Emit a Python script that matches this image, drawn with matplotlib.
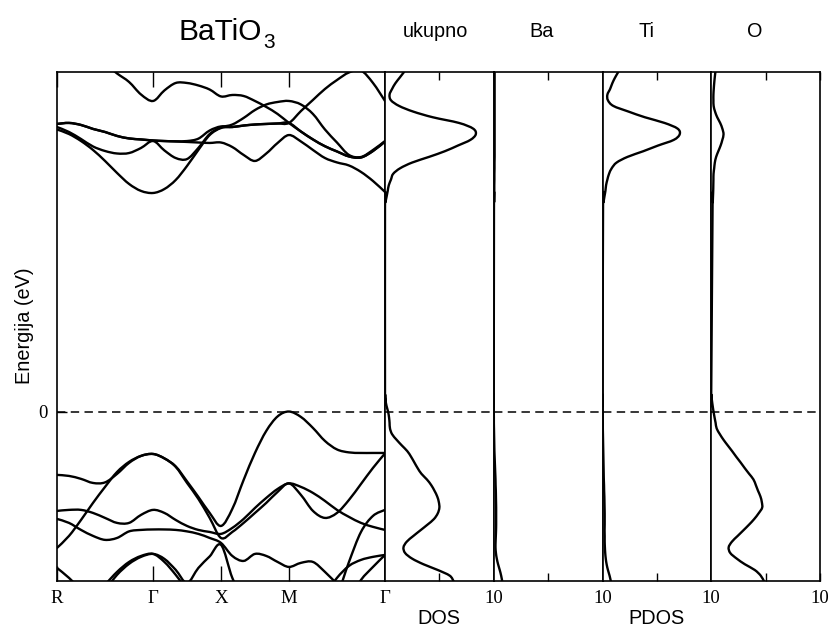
import numpy as np
import matplotlib
matplotlib.use('Agg')
import matplotlib.pyplot as plt
from matplotlib.path import Path
from matplotlib.patches import PathPatch

plt.rcParams['font.family'] = ['Liberation Sans', 'DejaVu Sans']
plt.rcParams['mathtext.default'] = 'regular'

nan = np.nan
SERIF = ['Liberation Serif', 'DejaVu Serif']

# ---------------- band structure data ----------------
k_labels = ['R', 'Γ', 'X', 'M', 'Γ']
k_nodes = [0.0, np.sqrt(2), np.sqrt(2) + 1, np.sqrt(2) + 2, 2 * np.sqrt(2) + 2]
k_path = np.concatenate([
    np.linspace(k_nodes[0], k_nodes[1], 9),
    np.linspace(k_nodes[1], k_nodes[2], 7)[1:],
    np.linspace(k_nodes[2], k_nodes[3], 7)[1:],
    np.linspace(k_nodes[3], k_nodes[4], 9)[1:],
])

# conduction bands (eV)
cb1 = [2.492, 2.452, 2.390, 2.311, 2.214, 2.108, 2.011, 1.949, 1.931,
       1.966, 2.046, 2.170, 2.311, 2.443, 2.505,
       2.514, 2.527, 2.536, 2.541, 2.545, 2.550,
       2.655, 2.753, 2.850, 2.929, 2.996, 3.013, 2.903, 2.744]
cb2 = [2.514, 2.470, 2.408, 2.342, 2.302, 2.280, 2.284, 2.329, 2.390,
       2.307, 2.240, 2.231, 2.329, 2.452, 2.510,
       2.536, 2.594, 2.664, 2.713, 2.735, 2.744,
       2.713, 2.629, 2.492, 2.377, 2.267, 2.249, 2.311, 2.390]
cb3 = [2.541, 2.550, 2.532, 2.497, 2.470, 2.435, 2.413, 2.404, 2.395,
       2.390, 2.388, 2.390, 2.411, 2.483, 2.519,
       2.514, 2.527, 2.536, 2.541, 2.545, 2.550,
       2.474, 2.404, 2.344, 2.298, 2.254, 2.245, 2.302, 2.386]
cb4 = [3.247, 3.230, 3.194, 3.141, 3.071, 2.987, 2.912, 2.801, 2.744,
       2.837, 2.903, 2.903, 2.881, 2.845, 2.784,
       2.797, 2.788, 2.744, 2.691, 2.629, 2.550,
       2.474, 2.404, 2.344, 2.298, 2.254, 2.245, 2.302, 2.386]
cb5 = [2.541, 2.550, 2.532, 2.497, 2.470, 2.435, 2.413, 2.404, 2.395,
       2.390, 2.386, 2.382, 2.377, 2.373, 2.377,
       2.337, 2.267, 2.214, 2.280, 2.373, 2.443,
       2.386, 2.311, 2.240, 2.201, 2.174, 2.117, 2.037, 1.940]

# valence bands (eV)
vb1 = [-1.205, -1.099, -0.958, -0.807, -0.666, -0.534, -0.445, -0.392, -0.375,
       -0.414, -0.485, -0.617, -0.754, -0.896, -1.011,
       -0.860, -0.604, -0.366, -0.171, -0.043, 0.000,
       -0.048, -0.145, -0.260, -0.335, -0.361, -0.366, -0.366, -0.366]
vb2 = [-0.560, -0.569, -0.595, -0.631, -0.626, -0.551, -0.454, -0.392, -0.375,
       -0.414, -0.489, -0.631, -0.772, -0.940, -1.117,
       -1.064, -0.984, -0.896, -0.807, -0.710, -0.635,
       -0.737, -0.878, -0.940, -0.896, -0.781, -0.640, -0.498, -0.370]
vb3 = [-0.878, -0.869, -0.869, -0.896, -0.940, -0.984, -0.984, -0.913, -0.869,
       -0.896, -0.958, -1.011, -1.046, -1.064, -1.081,
       -1.028, -0.949, -0.852, -0.763, -0.684, -0.635,
       -0.666, -0.719, -0.790, -0.869, -0.931, -0.984, -1.019, -1.046]
vb4 = [-0.949, -0.984, -1.046, -1.099, -1.134, -1.117, -1.059, -1.046, -1.042,
       -1.042, -1.046, -1.059, -1.081, -1.117, -1.161,
       -1.276, -1.320, -1.258, -1.276, -1.329, -1.373,
       -1.337, -1.329, -1.417, -1.523, nan, nan, nan, nan]
vb5 = [-1.382, -1.470, -1.576, -1.647, -1.576, -1.443, -1.346, -1.284, -1.258,
       -1.302, -1.399, -1.514, -1.382, -1.280, -1.178,
       -1.470, -1.664, nan, nan, nan, nan,
       nan, nan, nan, nan, nan, nan, nan, nan]
vb6 = [nan, nan, nan, -1.664, -1.532, -1.417, -1.329, -1.276, -1.258,
       -1.329, -1.443, -1.576, nan, nan, nan,
       nan, nan, nan, nan, nan, nan,
       nan, nan, -1.797, -1.629, -1.329, -1.064, -0.922, -0.869]
vb7 = [nan, nan, nan, nan, nan, nan, nan, nan, nan,
       nan, nan, nan, nan, nan, nan,
       nan, nan, nan, nan, nan, nan,
       nan, -1.753, -1.620, -1.470, -1.364, -1.311, -1.284, -1.267]
vb8 = [nan, nan, nan, nan, nan, nan, nan, nan, nan,
       nan, nan, nan, nan, nan, nan,
       nan, nan, nan, nan, nan, nan,
       nan, nan, nan, nan, -1.664, -1.488, -1.373, -1.267]

bands = [cb1, cb2, cb3, cb4, cb5, vb1, vb2, vb3, vb4, vb5, vb6, vb7, vb8]

# ---------------- DOS data ----------------
E_val = np.linspace(-1.5, 0.2, 35)
E_con = np.linspace(1.8, 3.0, 25)

tot_val = [6.31, 5.95, 4.85, 3.55, 2.5, 1.85, 1.7, 2.0, 2.6, 3.25,
           3.9, 4.5, 4.85, 5.0, 4.95, 4.8, 4.55, 4.25, 3.85, 3.35,
           3.0, 2.7, 2.4, 2.05, 1.55, 1.07, 0.65, 0.46, 0.42, 0.37,
           0.28, 0.14, 0.05, 0.01, 0.0]
tot_con = [0.0, 0.05, 0.15, 0.25, 0.35, 0.55, 0.75, 1.4, 2.5, 4.05,
           5.5, 6.7, 7.85, 8.35, 8.1, 6.8, 4.4, 2.6, 1.3, 0.55,
           0.42, 0.65, 0.95, 1.35, 1.75]
ba_val = [0.78, 0.68, 0.55, 0.4, 0.28, 0.2, 0.16, 0.17, 0.19, 0.21,
          0.22, 0.22, 0.22, 0.22, 0.21, 0.2, 0.19, 0.17, 0.16, 0.14,
          0.12, 0.1, 0.08, 0.06, 0.05, 0.04, 0.03, 0.02, 0.01, 0.01,
          0.0, 0.0, 0.0, 0.0, 0.0]
ba_con = [0.02, 0.03, 0.04, 0.05, 0.05, 0.06, 0.06, 0.07, 0.07, 0.08,
          0.08, 0.08, 0.08, 0.08, 0.08, 0.08, 0.08, 0.08, 0.08, 0.08,
          0.08, 0.08, 0.08, 0.08, 0.08]
ti_val = [0.77, 0.65, 0.5, 0.38, 0.3, 0.25, 0.22, 0.2, 0.2, 0.19,
          0.2, 0.2, 0.2, 0.19, 0.18, 0.17, 0.15, 0.14, 0.12, 0.11,
          0.1, 0.09, 0.08, 0.07, 0.06, 0.05, 0.04, 0.03, 0.03, 0.02,
          0.02, 0.01, 0.0, 0.0, 0.0]
ti_con = [0.05, 0.1, 0.18, 0.27, 0.33, 0.45, 0.6, 0.85, 1.3, 2.3,
          3.75, 5.1, 6.55, 7.1, 6.9, 5.7, 3.9, 2.4, 1.0, 0.5,
          0.45, 0.7, 0.9, 1.15, 1.45]
o_val = [4.85, 4.55, 4.0, 3.1, 2.35, 1.75, 1.6, 1.9, 2.42, 2.95,
         3.47, 3.95, 4.35, 4.68, 4.65, 4.52, 4.3, 4.1, 3.88, 3.48,
         3.08, 2.7, 2.3, 1.92, 1.52, 1.13, 0.79, 0.5, 0.4, 0.3,
         0.21, 0.13, 0.06, 0.0, 0.0]
o_con = [0.12, 0.14, 0.16, 0.18, 0.19, 0.2, 0.21, 0.27, 0.33, 0.45,
         0.65, 0.86, 1.02, 1.13, 1.02, 0.82, 0.55, 0.35, 0.22, 0.2,
         0.2, 0.23, 0.27, 0.32, 0.38]

dos_titles = ['ukupno', 'Ba', 'Ti', 'O']
dos_sets = [(tot_val, tot_con), (ba_val, ba_con), (ti_val, ti_con), (o_val, o_con)]

E_min, E_max = -1.5, 3.0

# ---------------- figure ----------------
W, H = 833, 630
fig = plt.figure(figsize=(W / 100, H / 100), dpi=100)
fig.patch.set_facecolor('white')


def px_axes(l, t, r, b):
    return fig.add_axes([l / W, 1 - b / H, (r - l) / W, (b - t) / H])


def smooth_line(ax, x, y, lw):
    """Draw a smooth (Catmull-Rom Bezier) line through the given data points."""
    x = np.asarray(x, float)
    y = np.asarray(y, float)
    ok = np.flatnonzero(np.isfinite(x) & np.isfinite(y))
    if len(ok) == 0:
        return
    runs = np.split(ok, np.where(np.diff(ok) != 1)[0] + 1)
    for r in runs:
        if len(r) < 2:
            continue
        P = np.column_stack([x[r], y[r]])
        n = len(P)
        verts = [P[0]]
        codes = [Path.MOVETO]
        for i in range(n - 1):
            p0 = P[i - 1] if i > 0 else P[i]
            p1, p2 = P[i], P[i + 1]
            p3 = P[i + 2] if i + 2 < n else P[i + 1]
            verts += [p1 + (p2 - p0) / 6, p2 - (p3 - p1) / 6, p2]
            codes += [Path.CURVE4] * 3
        ax.add_patch(PathPatch(Path(verts, codes), fill=False, edgecolor='k',
                               lw=lw, joinstyle='round', capstyle='round'))


LW = 1.7
SPW = 1.2
dash = (0, (5.5, 3.5))

top_px, bot_px = 72, 581.3
axb = px_axes(57, top_px, 385, bot_px)
for b in bands:
    smooth_line(axb, k_path, b, LW)
axb.axhline(0, color='k', lw=1.1, ls=dash)
axb.set_xlim(k_nodes[0], k_nodes[-1])
axb.set_ylim(E_min, E_max)
axb.set_xticks(k_nodes)
axb.set_xticklabels(k_labels, fontfamily=SERIF, fontsize=13.5)
axb.set_yticks([0])
axb.set_yticklabels(['0'], fontfamily=SERIF, fontsize=13.5)
axb.tick_params(axis='x', direction='in', length=10.5, width=1.0, top=True, pad=6)
axb.tick_params(axis='y', direction='in', length=7, width=1.0, pad=7)
for s in axb.spines.values():
    s.set_linewidth(SPW)

panel_w = 108.75
left0 = 385
for i, (title, (dv, dc)) in enumerate(zip(dos_titles, dos_sets)):
    l = left0 + i * panel_w
    ax = px_axes(l, top_px, l + panel_w, bot_px)
    E_all = np.concatenate([E_val, E_con])
    D_all = np.concatenate([dv, dc])
    smooth_line(ax, D_all, E_all, LW)
    ax.axhline(0, color='k', lw=1.1, ls=dash)
    ax.set_xlim(0, 10)
    ax.set_ylim(E_min, E_max)
    ax.set_yticks([])
    ax.set_xticks([5, 10])
    ax.set_xticklabels(['', '10'], fontfamily=SERIF, fontsize=13.5)
    ax.tick_params(axis='x', direction='in', length=6, width=1.0, top=True, pad=6)
    for s in ax.spines.values():
        s.set_linewidth(SPW)

# titles / labels
fig.text(178.5 / W, 1 - 40 / H, 'BaTiO', fontsize=21.5, ha='left', va='baseline')
fig.text(263.5 / W, 1 - 48.3 / H, '3', fontsize=15, ha='left', va='baseline')
title_x = [435.5, 542, 646.7, 755]
for t, x in zip(dos_titles, title_x):
    fig.text(x / W, 1 - 36.7 / H, t, fontsize=14.3, ha='center', va='baseline')
fig.text(439 / W, 1 - 618 / H, 'DOS', fontsize=14.3, ha='center', va='center')
fig.text(656.7 / W, 1 - 618 / H, 'PDOS', fontsize=14.3, ha='center', va='center')
fig.text(24 / W, 1 - 326 / H, 'Energija (eV)', fontsize=14.3, rotation=90,
         ha='center', va='center')

fig.savefig('out.png', dpi=100, facecolor='white')
